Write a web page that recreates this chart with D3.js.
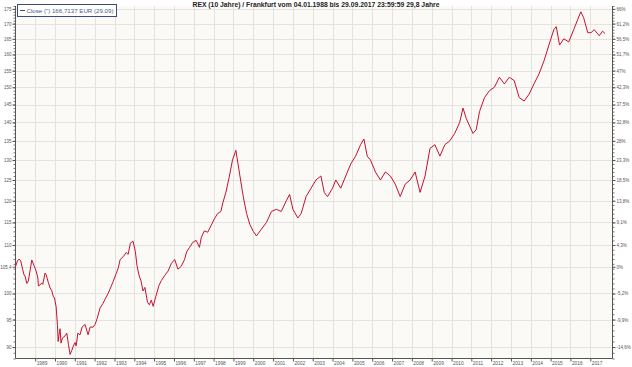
<!DOCTYPE html>
<html>
<head>
<meta charset="utf-8">
<script src="https://cdn.jsdelivr.net/npm/d3@7"></script>
<style>
  body { margin: 0; background: #fff; }
  text { font-family: "Liberation Sans", Arial, sans-serif; }
</style>
</head>
<body>
<div id="chart"></div>
<script>

var title = "REX (10 Jahre) / Frankfurt vom 04.01.1988 bis 29.09.2017 23:59:59 29,8 Jahre";
var legendLabel = "Close (\") 166,7137 EUR (29.09)";

// close values
var dates = ["1988-01-04","1988-02-08","1988-03-10","1988-04-10","1988-05-16","1988-06-10","1988-06-28","1988-07-30","1988-08-28","1988-10-30","1988-12-12",
  "1989-01-18","1989-02-19","1989-03-01","1989-04-01","1989-05-02","1989-05-20","1989-07-02","1989-07-20","1989-09-02","1989-10-03","1989-11-04","1989-12-03","1989-12-21",
  "1990-01-22","1990-02-15","1990-02-28","1990-03-16","1990-04-04","1990-04-22","1990-05-16","1990-07-05","1990-08-06","1990-09-05","1990-10-06","1990-11-06","1990-12-05",
  "1991-01-06","1991-01-25","1991-02-26","1991-04-07","1991-05-14","1991-07-08","1991-09-02","1991-10-09","1991-12-03",
  "1992-01-10","1992-02-16","1992-04-10","1992-06-05","1992-07-11","1992-09-05","1992-11-01","1992-12-07",
  "1993-02-01","1993-03-08","1993-04-15","1993-06-10","1993-08-05","1993-09-10","1993-10-20","1993-12-10",
  "1994-01-20","1994-02-20","1994-04-01","1994-05-05","1994-06-10","1994-07-15","1994-09-01","1994-10-05","1994-11-10","1994-12-15",
  "1995-02-01","1995-04-01","1995-05-15","1995-07-15","1995-09-15","1995-11-15",
  "1996-01-15","1996-03-15","1996-05-15","1996-07-15","1996-08-20","1996-10-15","1996-12-15",
  "1997-02-15","1997-04-15","1997-05-20","1997-07-15","1997-09-15","1997-11-15",
  "1998-01-15","1998-03-15","1998-05-15","1998-06-20","1998-08-15","1998-10-15","1998-12-15",
  "1999-02-15","1999-05-01","1999-07-01","1999-09-01","1999-11-01",
  "2000-01-01","2000-03-01","2000-06-01","2000-09-01","2000-12-01",
  "2001-03-01","2001-06-01","2001-09-01","2001-11-01",
  "2002-01-01","2002-04-01","2002-06-01","2002-09-01","2002-12-01",
  "2003-03-01","2003-06-01","2003-08-01","2003-10-01",
  "2004-01-01","2004-03-01","2004-06-01","2004-09-01","2004-12-01",
  "2005-03-01","2005-06-01","2005-08-01","2005-10-01","2005-12-01",
  "2006-03-01","2006-06-01","2006-09-01","2006-12-01",
  "2007-03-01","2007-06-01","2007-09-01","2007-12-01",
  "2008-03-01","2008-06-01","2008-09-01","2008-12-01",
  "2009-03-01","2009-06-01","2009-09-01","2009-12-01",
  "2010-03-01","2010-06-01","2010-08-01","2010-10-01","2010-12-01",
  "2011-02-01","2011-04-01","2011-06-01","2011-09-01","2011-12-01",
  "2012-03-01","2012-06-01","2012-09-01","2012-12-01",
  "2013-03-01","2013-06-01","2013-09-01","2013-12-01",
  "2014-03-01","2014-06-01","2014-09-01","2014-12-01",
  "2015-03-01","2015-04-15","2015-06-15","2015-09-01","2015-12-01",
  "2016-03-01","2016-07-10","2016-09-01","2016-11-15",
  "2017-01-15","2017-03-15","2017-06-15","2017-08-15","2017-09-29"];

var closes = [105.4,106.6,107.0,106.6,104.8,103.7,103.5,102.0,102.5,106.8,105.6,
  104.5,103.1,101.5,101.7,102.1,101.8,104.1,103.8,102.1,101.1,100.5,99.3,99.2,
  97.4,93.9,91.0,92.2,93.3,90.7,91.6,92.0,92.5,90.5,88.7,89.4,90.2,
  90.8,90.2,92.5,92.2,93.6,94.1,92.2,93.6,93.6,
  94.1,95.2,97.2,98.1,98.9,100.0,101.4,102.4,
  104.0,105.0,106.9,107.5,108.4,108.0,110.4,110.8,
  108.6,105.6,103.5,102.5,100.5,101.2,98.3,97.8,98.7,97.5,
  99.4,101.6,102.6,103.6,104.5,106.1,
  106.9,104.9,105.5,106.9,108.5,109.5,110.6,
  111.0,109.5,111.7,113.1,112.8,114.3,
  115.8,117.0,117.5,119.5,122.0,125.7,130.0,
  132.5,126,121,117,114.5,
  113,112,113.5,115,117.5,
  118,117.5,120,121.5,
  118,116,117,121,123,
  125,126,122,121,
  123,125,123,126,129,
  131,134,135.5,131,130,
  127,125,127,126,
  124,121,124,125,
  127,122,126,133,
  134,131,134,135,
  137,140,144,141,139,
  137,138,143,147,149,
  150,153,151,153,
  152,147,146,148,
  151,154,158,163,
  168,169,163,165,164,
  168,174,172,167,
  167,168,166,167.5,166.7137];

// tick labels on both sides
var leftTicks = [90, 95, 100, 105.4, 110, 115, 120, 125, 130, 135, 140, 145, 150, 155, 160, 165, 170, 175];
var leftLabels = ["90","95","100","105,4","110","115","120","125","130","135","140","145","150","155","160","165","170","175"];
var rightLabels = ["-14,6%","-9,9%","-5,2%","0%","4,3%","9,1%","13,8%","18,5%","23,3%","28%","32,8%","37,5%","42,3%","47%","51,7%","56,5%","61,2%","66%"];
var years = d3.range(1989, 2018);

function drawChart() {

    var width = 632;
    var height = 367;

    var plot = { left: 15.5, right: 612.5, top: 6, bottom: 358.5 };

    var parse = d3.timeParse("%Y-%m-%d");
    var data = dates.map(function (d, i) { return { date: parse(d), close: closes[i] }; });

    var x = d3.scaleTime()
        .domain([parse("1988-01-04"), parse("2017-09-29")])
        .range([plot.left, 605]);

    var y = d3.scaleLog()
        .domain([88, 176])
        .range([plot.bottom, plot.top]);

    var svg = d3.select("#chart").append("svg")
        .attr("width", width)
        .attr("height", height);

    svg.append("rect")
        .attr("width", width)
        .attr("height", height)
        .attr("fill", "#ffffff");

    svg.append("rect")
        .attr("x", plot.left)
        .attr("y", plot.top)
        .attr("width", plot.right - plot.left)
        .attr("height", plot.bottom - plot.top)
        .attr("fill", "#fbfaf6");

    // grid
    svg.append("g").selectAll("line")
        .data(leftTicks)
        .join("line")
        .attr("x1", plot.left)
        .attr("x2", plot.right)
        .attr("y1", function (d) { return Math.round(y(d)) + 0.5; })
        .attr("y2", function (d) { return Math.round(y(d)) + 0.5; })
        .attr("stroke", "#e4e3df")
        .attr("stroke-width", 1);

    svg.append("g").selectAll("line")
        .data(years)
        .join("line")
        .attr("x1", function (d) { return Math.round(x(new Date(d, 0, 1))) + 0.5; })
        .attr("x2", function (d) { return Math.round(x(new Date(d, 0, 1))) + 0.5; })
        .attr("y1", plot.top)
        .attr("y2", plot.bottom)
        .attr("stroke", "#e4e3df")
        .attr("stroke-width", 1);

    // axes
    var minor = d3.range(88, 177);

    svg.append("g")
        .attr("transform", "translate(" + plot.left + ",0)")
        .call(d3.axisLeft(y).tickValues(minor).tickSize(2).tickFormat(""))
        .call(function (g) { g.select(".domain").remove(); })
        .selectAll("line").attr("stroke", "#777");

    svg.append("g")
        .attr("transform", "translate(" + plot.left + ",0)")
        .call(d3.axisLeft(y)
            .tickValues(leftTicks)
            .tickSize(3)
            .tickPadding(1)
            .tickFormat(function (d, i) { return leftLabels[i]; }))
        .call(function (g) {
            g.select(".domain").remove();
            g.selectAll("line").attr("stroke", "#555");
            g.selectAll("text").attr("font-size", 4.5).attr("fill", "#555").attr("font-family", "Liberation Sans");
        });

    svg.append("g")
        .attr("transform", "translate(" + plot.right + ",0)")
        .call(d3.axisRight(y).tickValues(minor).tickSize(2).tickFormat(""))
        .call(function (g) { g.select(".domain").remove(); })
        .selectAll("line").attr("stroke", "#777");

    svg.append("g")
        .attr("transform", "translate(" + plot.right + ",0)")
        .call(d3.axisRight(y)
            .tickValues(leftTicks)
            .tickSize(3)
            .tickPadding(1)
            .tickFormat(function (d, i) { return rightLabels[i]; }))
        .call(function (g) {
            g.select(".domain").remove();
            g.selectAll("line").attr("stroke", "#555");
            g.selectAll("text").attr("font-size", 4.5).attr("fill", "#555").attr("font-family", "Liberation Sans");
        });

    svg.append("g")
        .attr("transform", "translate(0," + plot.bottom + ")")
        .call(d3.axisBottom(x)
            .tickValues(years.map(function (d) { return new Date(d, 0, 1); }))
            .tickSize(3)
            .tickFormat(""))
        .call(function (g) {
            g.select(".domain").remove();
            g.selectAll("line").attr("stroke", "#555");
        });

    svg.append("g").selectAll("text")
        .data(years)
        .join("text")
        .attr("x", function (d) { return x(new Date(d, 0, 1)) + 1.5; })
        .attr("y", 365)
        .attr("font-size", 4.8)
        .attr("fill", "#555")
        .text(function (d) { return d; });

    // frame lines
    svg.append("line").attr("x1", plot.left).attr("x2", plot.left)
        .attr("y1", plot.top).attr("y2", plot.bottom).attr("stroke", "#555");
    svg.append("line").attr("x1", plot.right).attr("x2", plot.right)
        .attr("y1", plot.top).attr("y2", plot.bottom).attr("stroke", "#555");
    svg.append("line").attr("x1", plot.left).attr("x2", plot.right)
        .attr("y1", plot.bottom).attr("y2", plot.bottom).attr("stroke", "#555");

    // series
    var line = d3.line()
        .x(function (d) { return x(d.date); })
        .y(function (d) { return y(d.close); });

    svg.append("path")
        .datum(data)
        .attr("d", line)
        .attr("fill", "none")
        .attr("stroke", "#c8102e")
        .attr("stroke-width", 1)
        .attr("stroke-linejoin", "round");

    // title
    svg.append("text")
        .attr("x", 316)
        .attr("y", 6.5)
        .attr("text-anchor", "middle")
        .attr("font-size", 6.5)
        .attr("font-weight", "bold")
        .attr("fill", "#222")
        .attr("textLength", 247)
        .attr("lengthAdjust", "spacingAndGlyphs")
        .text(title);

    // legend
    svg.append("rect")
        .attr("x", 17.5)
        .attr("y", 4.5)
        .attr("width", 99)
        .attr("height", 12)
        .attr("fill", "#ffffff")
        .attr("stroke", "#3b4a78")
        .attr("stroke-width", 1);

    svg.append("line")
        .attr("x1", 20)
        .attr("x2", 25)
        .attr("y1", 10.5)
        .attr("y2", 10.5)
        .attr("stroke", "#3b4a78")
        .attr("stroke-width", 1);

    svg.append("text")
        .attr("x", 26.5)
        .attr("y", 13)
        .attr("font-size", 6)
        .attr("fill", "#4a5a8c")
        .attr("textLength", 87)
        .attr("lengthAdjust", "spacingAndGlyphs")
        .text(legendLabel);
}

drawChart();
</script>
</body>
</html>
